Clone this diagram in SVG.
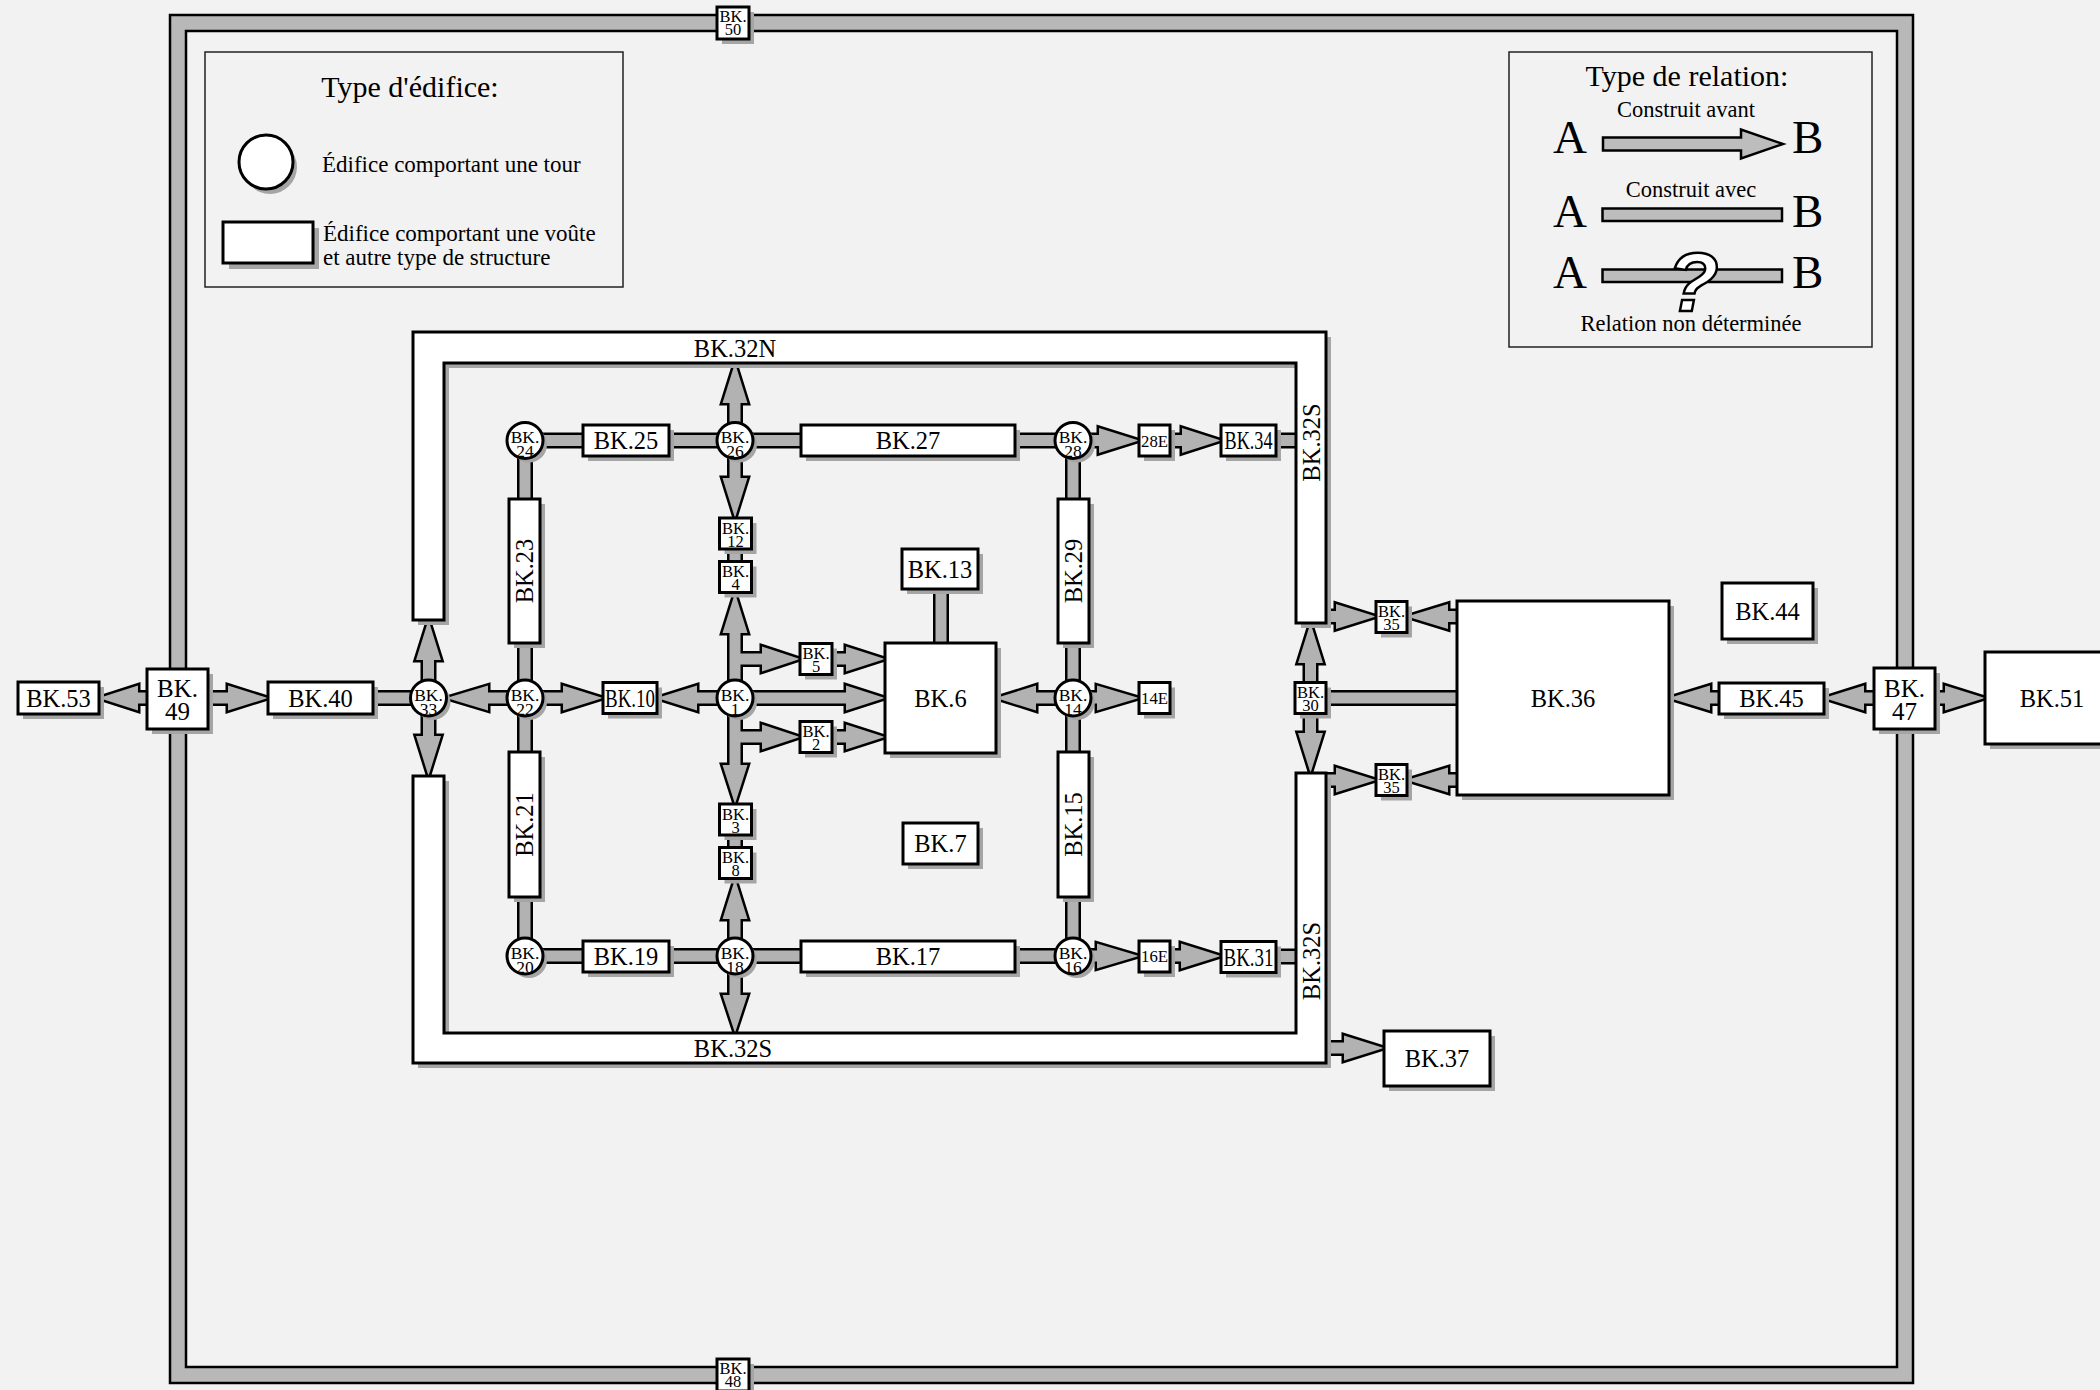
<svg xmlns="http://www.w3.org/2000/svg" xmlns:xlink="http://www.w3.org/1999/xlink" width="2100" height="1390" viewBox="0 0 2100 1390">
<style>
text{font-family:"Liberation Serif","Times New Roman",serif;fill:#000}
.co{fill:#b2b2b2;stroke:#000;stroke-width:5;stroke-linejoin:miter;stroke-miterlimit:10}
.cf{fill:#b2b2b2;stroke:none}
.nd{fill:#fff;stroke:#000;stroke-width:3}
.sh{fill:#a5a5a5;stroke:none}
.l{font-size:24.5px;text-anchor:middle}
.ct{font-size:17.5px;text-anchor:middle}
.st{font-size:16.5px;text-anchor:middle}
.big{font-size:25px;text-anchor:middle}
.lg{font-size:23px}
.lgt{font-size:30px;text-anchor:middle}
.ab{font-size:47px}
.rel{font-size:22.5px;text-anchor:middle}
.lgs{fill:#bdbdbd;stroke:#000;stroke-width:2.5}
</style>
<rect x="0" y="0" width="2100" height="1390" fill="#f2f2f2"/>

<g id="wall-enceinte">
<rect x="170" y="15" width="1743" height="1368" fill="#b8b8b8" stroke="#000" stroke-width="2.5"/>
<rect x="186" y="31" width="1711" height="1336" fill="#f2f2f2" stroke="#000" stroke-width="2.5"/>
</g>

<g id="legend-type-edifice">
<rect x="205" y="52" width="418" height="235" fill="none" stroke="#222" stroke-width="1.5"/>
<text class="lgt" x="410" y="97">Type d'édifice:</text>
<circle class="sh" cx="270" cy="167" r="27"/>
<circle class="nd" cx="266" cy="162" r="27"/>
<text class="lg" x="322" y="172">Édifice comportant une tour</text>
<rect class="sh" x="229" y="228" width="90" height="41"/>
<rect class="nd" x="223" y="222" width="90" height="41"/>
<text class="lg" x="323" y="241">Édifice comportant une voûte<tspan x="323" dy="24">et autre type de structure</tspan></text>
</g>

<g id="legend-type-relation">
<rect x="1509" y="52" width="363" height="295" fill="none" stroke="#222" stroke-width="1.5"/>
<text class="lgt" x="1687" y="86">Type de relation:</text>
<text class="rel" x="1686" y="117">Construit avant</text>
<text class="ab" x="1553" y="153">A</text>
<polygon class="lgs" points="1603,137.5 1741,137.5 1741,129.5 1783,144 1741,158.5 1741,150.5 1603,150.5"/>
<text class="ab" x="1792" y="153">B</text>
<text class="rel" x="1691" y="197">Construit avec</text>
<text class="ab" x="1553" y="227">A</text>
<rect class="lgs" x="1602.5" y="208.5" width="179.5" height="12.5"/>
<text class="ab" x="1792" y="227">B</text>
<text class="ab" x="1553" y="288">A</text>
<rect class="lgs" x="1602.5" y="269.5" width="179.5" height="12.5"/>
<text x="1693" y="311" font-weight="bold" font-style="italic" font-size="84" text-anchor="middle" stroke="#000" stroke-width="2.5" style="font-family:'Liberation Sans',Arial,sans-serif;fill:#fff">?</text>
<text class="ab" x="1792" y="288">B</text>
<text class="rel" x="1691" y="331">Relation non déterminée</text>
</g>

<g id="connectors">
<g class="co">
<g id="conn-paths">
<rect x="525" y="435" width="548" height="11"/>
<path d="M1073,435 H1099 V428 L1139,440.5 L1099,453 V446 H1073 Z"/>
<path d="M1160,435 H1182 V428 L1221,440.5 L1182,453 V446 H1160 Z"/>
<rect x="1260" y="435" width="50" height="11"/>
<path d="M729.5,440 V403 H722.5 L735,363 L747.5,403 H740.5 V440 Z"/>
<path d="M729.5,440 V478 H722.5 L735,518 L747.5,478 H740.5 V440 Z"/>
<rect x="729.5" y="540" width="11" height="30"/>
<path d="M729.5,698 V633 H722.5 L735,593 L747.5,633 H740.5 V698 Z"/>
<path d="M735,653.5 H762 V646.5 L800,659 L762,671.5 V664.5 H735 Z"/>
<path d="M820,653.5 H846 V646.5 L885,659 L846,671.5 V664.5 H820 Z"/>
<path d="M735,692.5 H846 V685.5 L885,698 L846,710.5 V703.5 H735 Z"/>
<path d="M735,692.5 H697 V685.5 L657,698 L697,710.5 V703.5 H735 Z"/>
<path d="M729.5,698 V765 H722.5 L735,804 L747.5,765 H740.5 V698 Z"/>
<path d="M735,731.5 H762 V724.5 L800,737 L762,749.5 V742.5 H735 Z"/>
<path d="M820,731.5 H846 V724.5 L885,737 L846,749.5 V742.5 H820 Z"/>
<rect x="729.5" y="825" width="11" height="30"/>
<path d="M729.5,956 V919 H722.5 L735,879 L747.5,919 H740.5 V956 Z"/>
<path d="M729.5,956 V995 H722.5 L735,1033 L747.5,995 H740.5 V956 Z"/>
<rect x="525" y="950.5" width="548" height="11"/>
<path d="M1073,950.5 H1097 V943.5 L1139,956 L1097,968.5 V961.5 H1073 Z"/>
<path d="M1160,950.5 H1181 V943.5 L1221,956 L1181,968.5 V961.5 H1160 Z"/>
<rect x="1260" y="951" width="50" height="11"/>
<rect x="519.5" y="440" width="11" height="516"/>
<rect x="1067.5" y="440" width="11" height="516"/>
<path d="M525,692.5 H488 V685.5 L446.5,698 L488,710.5 V703.5 H525 Z"/>
<path d="M525,692.5 H563 V685.5 L603,698 L563,710.5 V703.5 H525 Z"/>
<path d="M423,698 V660 H416 L428.5,620 L441,660 H434 V698 Z"/>
<path d="M423,698 V736 H416 L428.5,776 L441,736 H434 V698 Z"/>
<rect x="360" y="692.5" width="70" height="11"/>
<path d="M200,692.5 H228 V685.5 L268,698 L228,710.5 V703.5 H200 Z"/>
<path d="M160,692.5 H138 V685.5 L99,698 L138,710.5 V703.5 H160 Z"/>
<path d="M1073,692.5 H1036 V685.5 L996,698 L1036,710.5 V703.5 H1073 Z"/>
<path d="M1073,692.5 H1097 V685.5 L1139,698 L1097,710.5 V703.5 H1073 Z"/>
<rect x="935.5" y="580" width="11" height="70"/>
<path d="M1318,611 H1336 V604 L1376,616.5 L1336,629 V622 H1318 Z"/>
<path d="M1470,611 H1448 V604 L1407,616.5 L1448,629 V622 H1470 Z"/>
<path d="M1305,698 V663 H1298 L1310.5,623 L1323,663 H1316 V698 Z"/>
<path d="M1305,698 V733 H1298 L1310.5,773 L1323,733 H1316 V698 Z"/>
<rect x="1310" y="692.5" width="160" height="11"/>
<path d="M1318,774.5 H1336 V767.5 L1376,780 L1336,792.5 V785.5 H1318 Z"/>
<path d="M1470,774.5 H1448 V767.5 L1407,780 L1448,792.5 V785.5 H1470 Z"/>
<path d="M1318,1042.5 H1344 V1035.5 L1384,1048 L1344,1060.5 V1053.5 H1318 Z"/>
<path d="M1730,692.5 H1710 V685.5 L1669,698 L1710,710.5 V703.5 H1730 Z"/>
<path d="M1890,692.5 H1864 V685.5 L1824,698 L1864,710.5 V703.5 H1890 Z"/>
<path d="M1920,692.5 H1945 V685.5 L1985,698 L1945,710.5 V703.5 H1920 Z"/>
</g>
</g>
<use xlink:href="#conn-paths" href="#conn-paths" class="cf"/>
</g>

<g id="bk32n">
<path class="sh" d="M418,625 V337 H1331 V628 H1301 V368 H449 V625 Z"/>
<path class="nd" d="M413,620 V332 H1326 V623 H1296 V363 H444 V620 Z"/>
<text class="l" x="735" y="356.5">BK.32N</text>
<text class="l" x="1311" y="451" transform="rotate(-90 1311 442.5)">BK.32S</text>
</g>
<g id="bk32s">
<path class="sh" d="M418,781 V1068 H1331 V778 H1301 V1038 H449 V781 Z"/>
<path class="nd" d="M413,776 V1063 H1326 V773 H1296 V1033 H444 V776 Z"/>
<text class="l" x="733" y="1057">BK.32S</text>
<text class="l" x="1311" y="969.5" transform="rotate(-90 1311 961)">BK.32S</text>
</g>

<g id="bk24"><circle class="sh" cx="529" cy="444.5" r="18"/><circle class="nd" cx="525" cy="440.5" r="18"/><text class="ct" x="525" y="443">BK.<tspan x="525" dy="14">24</tspan></text></g>
<g id="bk26"><circle class="sh" cx="739" cy="444.5" r="18"/><circle class="nd" cx="735" cy="440.5" r="18"/><text class="ct" x="735" y="443">BK.<tspan x="735" dy="14">26</tspan></text></g>
<g id="bk28"><circle class="sh" cx="1077" cy="444.5" r="18"/><circle class="nd" cx="1073" cy="440.5" r="18"/><text class="ct" x="1073" y="443">BK.<tspan x="1073" dy="14">28</tspan></text></g>
<g id="bk33"><circle class="sh" cx="432.5" cy="702" r="18"/><circle class="nd" cx="428.5" cy="698" r="18"/><text class="ct" x="428.5" y="700.5">BK.<tspan x="428.5" dy="14">33</tspan></text></g>
<g id="bk22"><circle class="sh" cx="529" cy="702" r="18"/><circle class="nd" cx="525" cy="698" r="18"/><text class="ct" x="525" y="700.5">BK.<tspan x="525" dy="14">22</tspan></text></g>
<g id="bk1"><circle class="sh" cx="739" cy="702" r="18"/><circle class="nd" cx="735" cy="698" r="18"/><text class="ct" x="735" y="700.5">BK.<tspan x="735" dy="14">1</tspan></text></g>
<g id="bk14"><circle class="sh" cx="1077" cy="702" r="18"/><circle class="nd" cx="1073" cy="698" r="18"/><text class="ct" x="1073" y="700.5">BK.<tspan x="1073" dy="14">14</tspan></text></g>
<g id="bk20"><circle class="sh" cx="529" cy="960" r="18"/><circle class="nd" cx="525" cy="956" r="18"/><text class="ct" x="525" y="958.5">BK.<tspan x="525" dy="14">20</tspan></text></g>
<g id="bk18"><circle class="sh" cx="739" cy="960" r="18"/><circle class="nd" cx="735" cy="956" r="18"/><text class="ct" x="735" y="958.5">BK.<tspan x="735" dy="14">18</tspan></text></g>
<g id="bk16"><circle class="sh" cx="1077" cy="960" r="18"/><circle class="nd" cx="1073" cy="956" r="18"/><text class="ct" x="1073" y="958.5">BK.<tspan x="1073" dy="14">16</tspan></text></g>

<g id="bk25"><rect class="sh" x="588" y="430" width="86" height="31"/><rect class="nd" x="583" y="425" width="86" height="31"/><text class="l" x="626" y="449">BK.25</text></g>
<g id="bk27"><rect class="sh" x="806" y="430" width="214" height="31"/><rect class="nd" x="801" y="425" width="214" height="31"/><text class="l" x="908" y="449">BK.27</text></g>
<g id="bk28e"><rect class="sh" x="1144" y="430" width="31" height="31"/><rect class="nd" x="1139" y="425" width="31" height="31"/><text class="st" x="1154.5" y="446.5" textLength="27" lengthAdjust="spacingAndGlyphs">28E</text></g>
<g id="bk34"><rect class="sh" x="1226" y="430" width="55" height="31"/><rect class="nd" x="1221" y="425" width="55" height="31"/><text class="l" x="1248.5" y="449" textLength="48" lengthAdjust="spacingAndGlyphs">BK.34</text></g>
<g id="bk10"><rect class="sh" x="608" y="687.5" width="54" height="31"/><rect class="nd" x="603" y="682.5" width="54" height="31"/><text class="l" x="630" y="706.5" textLength="50" lengthAdjust="spacingAndGlyphs">BK.10</text></g>
<g id="bk14e"><rect class="sh" x="1144" y="687.5" width="31" height="31"/><rect class="nd" x="1139" y="682.5" width="31" height="31"/><text class="st" x="1154.5" y="704" textLength="27" lengthAdjust="spacingAndGlyphs">14E</text></g>
<g id="bk40"><rect class="sh" x="273" y="687" width="105" height="32"/><rect class="nd" x="268" y="682" width="105" height="32"/><text class="l" x="320.5" y="706.5">BK.40</text></g>
<g id="bk53"><rect class="sh" x="23" y="687" width="81" height="32"/><rect class="nd" x="18" y="682" width="81" height="32"/><text class="l" x="58.5" y="706.5">BK.53</text></g>
<g id="bk45"><rect class="sh" x="1724" y="688" width="105" height="31"/><rect class="nd" x="1719" y="683" width="105" height="31"/><text class="l" x="1771.5" y="706.5">BK.45</text></g>
<g id="bk19"><rect class="sh" x="588" y="946" width="86" height="31"/><rect class="nd" x="583" y="941" width="86" height="31"/><text class="l" x="626" y="964.5">BK.19</text></g>
<g id="bk17"><rect class="sh" x="806" y="946" width="214" height="31"/><rect class="nd" x="801" y="941" width="214" height="31"/><text class="l" x="908" y="964.5">BK.17</text></g>
<g id="bk16e"><rect class="sh" x="1144" y="946" width="31" height="31"/><rect class="nd" x="1139" y="941" width="31" height="31"/><text class="st" x="1154.5" y="962" textLength="27" lengthAdjust="spacingAndGlyphs">16E</text></g>
<g id="bk31"><rect class="sh" x="1226" y="946.5" width="55" height="31"/><rect class="nd" x="1221" y="941.5" width="55" height="31"/><text class="l" x="1248.5" y="965.5" textLength="50" lengthAdjust="spacingAndGlyphs">BK.31</text></g>

<g id="bk23"><rect class="sh" x="514" y="504" width="31" height="144"/><rect class="nd" x="509" y="499" width="31" height="144"/><text class="l" x="524.5" y="579.5" transform="rotate(-90 524.5 571)">BK.23</text></g>
<g id="bk21"><rect class="sh" x="514" y="757" width="31" height="145"/><rect class="nd" x="509" y="752" width="31" height="145"/><text class="l" x="524.5" y="833" transform="rotate(-90 524.5 824.5)">BK.21</text></g>
<g id="bk29"><rect class="sh" x="1063" y="504" width="31" height="144"/><rect class="nd" x="1058" y="499" width="31" height="144"/><text class="l" x="1073.5" y="579.5" transform="rotate(-90 1073.5 571)">BK.29</text></g>
<g id="bk15"><rect class="sh" x="1063" y="757" width="31" height="145"/><rect class="nd" x="1058" y="752" width="31" height="145"/><text class="l" x="1073.5" y="833" transform="rotate(-90 1073.5 824.5)">BK.15</text></g>

<g id="bk12"><rect class="sh" x="724.5" y="523" width="32" height="31"/><rect class="nd" x="719.5" y="518" width="32" height="31"/><text class="st" x="735.5" y="533.5">BK.<tspan x="735.5" dy="13">12</tspan></text></g>
<g id="bk4"><rect class="sh" x="724.5" y="566.5" width="32" height="31"/><rect class="nd" x="719.5" y="561.5" width="32" height="31"/><text class="st" x="735.5" y="577">BK.<tspan x="735.5" dy="13">4</tspan></text></g>
<g id="bk5"><rect class="sh" x="805" y="648.5" width="32" height="31"/><rect class="nd" x="800" y="643.5" width="32" height="31"/><text class="st" x="816" y="659">BK.<tspan x="816" dy="13">5</tspan></text></g>
<g id="bk2"><rect class="sh" x="805" y="726.5" width="32" height="31"/><rect class="nd" x="800" y="721.5" width="32" height="31"/><text class="st" x="816" y="737">BK.<tspan x="816" dy="13">2</tspan></text></g>
<g id="bk3"><rect class="sh" x="724.5" y="809" width="32" height="31"/><rect class="nd" x="719.5" y="804" width="32" height="31"/><text class="st" x="735.5" y="819.5">BK.<tspan x="735.5" dy="13">3</tspan></text></g>
<g id="bk8"><rect class="sh" x="724.5" y="852.5" width="32" height="31"/><rect class="nd" x="719.5" y="847.5" width="32" height="31"/><text class="st" x="735.5" y="863">BK.<tspan x="735.5" dy="13">8</tspan></text></g>
<g id="bk30"><rect class="sh" x="1300" y="687.5" width="31" height="31"/><rect class="nd" x="1295" y="682.5" width="31" height="31"/><text class="st" x="1310.5" y="698">BK.<tspan x="1310.5" dy="13">30</tspan></text></g>
<g id="bk35-nord"><rect class="sh" x="1381" y="606.5" width="31" height="31"/><rect class="nd" x="1376" y="601.5" width="31" height="31"/><text class="st" x="1391.5" y="617">BK.<tspan x="1391.5" dy="13">35</tspan></text></g>
<g id="bk35-sud"><rect class="sh" x="1381" y="769.5" width="31" height="31"/><rect class="nd" x="1376" y="764.5" width="31" height="31"/><text class="st" x="1391.5" y="780">BK.<tspan x="1391.5" dy="13">35</tspan></text></g>
<g id="bk50"><rect class="sh" x="722" y="12" width="32" height="32"/><rect class="nd" x="717" y="7" width="32" height="32"/><text class="st" x="733" y="22">BK.<tspan x="733" dy="13">50</tspan></text></g>
<g id="bk48"><rect class="sh" x="722" y="1364" width="32" height="32"/><rect class="nd" x="717" y="1359" width="32" height="32"/><text class="st" x="733" y="1374">BK.<tspan x="733" dy="13">48</tspan></text></g>

<g id="bk13"><rect class="sh" x="907" y="554" width="76" height="40"/><rect class="nd" x="902" y="549" width="76" height="40"/><text class="l" x="940" y="577.5">BK.13</text></g>
<g id="bk6"><rect class="sh" x="890" y="648" width="111" height="110"/><rect class="nd" x="885" y="643" width="111" height="110"/><text class="l" x="940.5" y="706.5">BK.6</text></g>
<g id="bk7"><rect class="sh" x="908" y="828" width="75" height="41"/><rect class="nd" x="903" y="823" width="75" height="41"/><text class="l" x="940.5" y="852">BK.7</text></g>
<g id="bk36"><rect class="sh" x="1462" y="606" width="212" height="194"/><rect class="nd" x="1457" y="601" width="212" height="194"/><text class="l" x="1563" y="706.5">BK.36</text></g>
<g id="bk44"><rect class="sh" x="1727" y="588" width="91" height="56"/><rect class="nd" x="1722" y="583" width="91" height="56"/><text class="l" x="1767.5" y="619.5">BK.44</text></g>
<g id="bk37"><rect class="sh" x="1389" y="1036" width="106" height="55"/><rect class="nd" x="1384" y="1031" width="106" height="55"/><text class="l" x="1437" y="1067">BK.37</text></g>
<g id="bk49"><rect class="sh" x="152" y="674" width="61" height="60"/><rect class="nd" x="147" y="669" width="61" height="60"/><text class="big" x="177.5" y="697">BK.<tspan x="177.5" dy="23">49</tspan></text></g>
<g id="bk47"><rect class="sh" x="1879" y="673" width="61" height="61"/><rect class="nd" x="1874" y="668" width="61" height="61"/><text class="big" x="1904.5" y="696.5">BK.<tspan x="1904.5" dy="23.5">47</tspan></text></g>
<g id="bk51"><rect class="sh" x="1990" y="657" width="140" height="92"/><rect class="nd" x="1985" y="652" width="140" height="92"/><text class="l" x="2052" y="707">BK.51</text></g>
</svg>
